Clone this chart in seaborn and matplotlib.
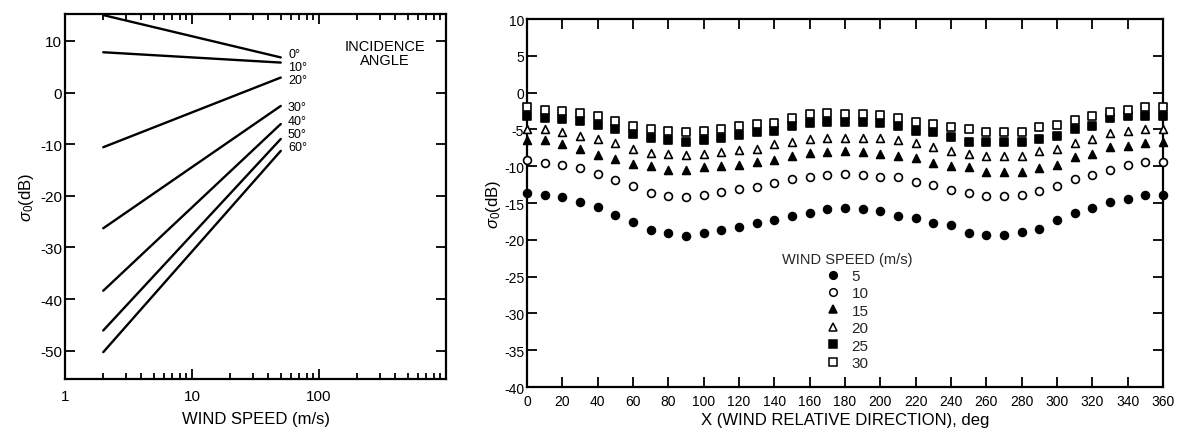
import numpy as np
import pandas as pd
import matplotlib
matplotlib.use("Agg")
import matplotlib.pyplot as plt
import seaborn as sns
from matplotlib.ticker import FixedLocator, NullFormatter, FuncFormatter
from matplotlib.lines import Line2D

# ---------------- data: left panel ----------------
incidence_angles = ["0°", "10°", "20°", "30°", "40°", "50°", "60°"]
speed_ends = [2, 50]
sigma_at_2 = [15.0, 7.8, -10.6, -26.3, -38.4, -46.1, -50.3]
sigma_at_50 = [6.8, 5.8, 2.9, -2.6, -6.1, -9.0, -11.3]
label_y = [7.5, 5.0, 2.5, -2.9, -5.5, -8.0, -10.5]

# ---------------- data: right panel ----------------
directions = list(range(0, 361, 10))
wind_speeds = ["5", "10", "15", "20", "25", "30"]
s5 = [-13.7, -13.9, -14.2, -14.9, -15.5, -16.6, -17.6, -18.6, -19.1, -19.5, -19.1, -18.7, -18.2,
      -17.7, -17.3, -16.8, -16.4, -15.8, -15.7, -15.8, -16.1, -16.7, -17.0, -17.7, -18.0,
      -19.1, -19.3, -19.4, -18.9, -18.5, -17.3, -16.4, -15.7, -14.9, -14.4, -13.9, -13.9]
s10 = [-9.1, -9.5, -9.8, -10.3, -11.0, -11.9, -12.7, -13.6, -14.0, -14.2, -13.9, -13.5, -13.1,
       -12.8, -12.3, -11.8, -11.4, -11.2, -11.0, -11.2, -11.4, -11.5, -12.2, -12.6, -13.2,
       -13.7, -14.0, -14.0, -13.9, -13.3, -12.7, -11.8, -11.2, -10.5, -9.9, -9.4, -9.4]
s15 = [-6.5, -6.5, -7.0, -7.7, -8.5, -9.0, -9.7, -10.0, -10.5, -10.5, -10.1, -10.0, -9.9,
       -9.4, -9.1, -8.6, -8.2, -8.1, -8.0, -8.1, -8.3, -8.6, -8.9, -9.5, -10.0,
       -10.1, -10.8, -10.8, -10.8, -10.3, -9.8, -8.8, -8.3, -7.4, -7.3, -6.8, -6.7]
s20 = [-4.9, -4.9, -5.3, -5.9, -6.3, -6.8, -7.6, -8.2, -8.3, -8.5, -8.3, -8.1, -7.8,
       -7.6, -7.0, -6.7, -6.3, -6.2, -6.1, -6.2, -6.2, -6.5, -6.8, -7.4, -7.9,
       -8.3, -8.6, -8.6, -8.6, -7.9, -7.6, -6.8, -6.3, -5.5, -5.2, -4.9, -4.9]
s25 = [-3.2, -3.4, -3.6, -3.8, -4.4, -5.0, -5.6, -6.2, -6.5, -6.7, -6.5, -6.1, -5.8,
       -5.4, -5.2, -4.5, -4.1, -4.0, -4.0, -4.0, -4.1, -4.5, -5.2, -5.4, -6.0,
       -6.7, -6.7, -6.7, -6.7, -6.3, -5.9, -5.0, -4.5, -3.5, -3.2, -3.2, -3.2]
s30 = [-2.0, -2.3, -2.5, -2.8, -3.2, -3.8, -4.5, -4.9, -5.2, -5.4, -5.2, -4.9, -4.6,
       -4.3, -4.1, -3.5, -2.9, -2.8, -2.9, -2.9, -3.1, -3.4, -4.0, -4.3, -4.7,
       -5.0, -5.3, -5.4, -5.3, -4.7, -4.4, -3.7, -3.2, -2.6, -2.3, -1.9, -2.0]
series = [s5, s10, s15, s20, s25, s30]

# ---------------- styling ----------------
sns.set_theme(style="ticks")
plt.rcParams["font.family"] = ["Liberation Sans", "DejaVu Sans"]
plt.rcParams["axes.unicode_minus"] = False
plt.rcParams["mathtext.fontset"] = "custom"
plt.rcParams["mathtext.rm"] = "Liberation Sans"
plt.rcParams["mathtext.it"] = "Liberation Sans:italic"

fig = plt.figure(figsize=(11.84, 4.35), dpi=100)
axL = fig.add_axes([0.0549, 0.1264, 0.3218, 0.839])
axR = fig.add_axes([0.4451, 0.1080, 0.5372, 0.846])

for ax, lsz in ((axL, 11), (axR, 10)):
    for sp in ax.spines.values():
        sp.set_linewidth(1.6)
        sp.set_color("black")
        sp.set_visible(True)
    ax.tick_params(which="both", direction="in", top=True, right=True,
                   colors="black", labelsize=lsz, width=1.3)
    ax.tick_params(which="major", length=7)
    ax.tick_params(which="minor", length=4)
    ax.tick_params(axis="y", pad=2)

axL.tick_params(axis="x", which="both", pad=7)
axR.tick_params(axis="x", which="both", pad=5)

# ---------------- left panel ----------------
left_df = pd.DataFrame({
    "speed": speed_ends * len(incidence_angles),
    "sigma": [v for pair in zip(sigma_at_2, sigma_at_50) for v in pair],
    "angle": [a for a in incidence_angles for _ in speed_ends],
})
sns.lineplot(data=left_df, x="speed", y="sigma", units="angle", estimator=None,
             color="black", linewidth=1.7, ax=axL, legend=False)
axL.set_xscale("log")
axL.set_xlim(1, 1000)
axL.set_ylim(-55.5, 15.2)
axL.xaxis.set_major_locator(FixedLocator([1, 10, 100, 1000]))
axL.xaxis.set_major_formatter(FuncFormatter(lambda v, p: "" if v >= 1000 else f"{int(v)}"))
minors = [m * d for d in (1, 10, 100) for m in range(2, 10)]
axL.xaxis.set_minor_locator(FixedLocator(minors))
axL.xaxis.set_minor_formatter(NullFormatter())
axL.set_yticks([-50, -40, -30, -20, -10, 0, 10])
for lab, yy in zip(incidence_angles, label_y):
    axL.text(57, yy, lab, fontsize=9, ha="left", va="center", color="black")
axL.text(0.84, 0.893, "INCIDENCE\nANGLE", transform=axL.transAxes, fontsize=10.5,
         ha="center", va="center", linespacing=1.0, color="black")
axL.set_xlabel("WIND SPEED (m/s)", fontsize=12, labelpad=6, color="black")
axL.set_ylabel(r"$\sigma_0$(dB)", fontsize=12, labelpad=3, color="black")

# ---------------- right panel ----------------
marker_specs = [("o", "black"), ("o", "white"), ("^", "black"),
                ("^", "white"), ("s", "black"), ("s", "white")]
handles = []
for ws, vals, (mk, fc) in zip(wind_speeds, series, marker_specs):
    df = pd.DataFrame({"direction": directions, "sigma": vals})
    sns.scatterplot(data=df, x="direction", y="sigma", marker=mk, s=32,
                    facecolor=fc, edgecolor="black", linewidth=1.2, ax=axR,
                    clip_on=False, zorder=3)
    handles.append(Line2D([], [], linestyle="none", marker=mk, markersize=5.5,
                          markerfacecolor=fc, markeredgecolor="black",
                          markeredgewidth=1.1, label=ws))
axR.set_xlim(0, 360)
axR.set_ylim(-40, 10)
axR.set_xticks(list(range(0, 361, 20)))
axR.set_yticks(list(range(-40, 11, 5)))
axR.set_xlabel("X (WIND RELATIVE DIRECTION), deg", fontsize=12, labelpad=3,
               color="black")
axR.set_ylabel(r"$\sigma_0$(dB)", fontsize=12, labelpad=1, color="black")

leg = axR.legend(handles=handles, title="WIND SPEED (m/s)", frameon=False,
                 loc="upper center", bbox_to_anchor=(0.503, 0.38),
                 fontsize=11, title_fontsize=10.5, handletextpad=0.7,
                 labelspacing=0.22, handlelength=1.0, borderaxespad=0,
                 borderpad=0.3)

fig.savefig("out.png", dpi=100)
